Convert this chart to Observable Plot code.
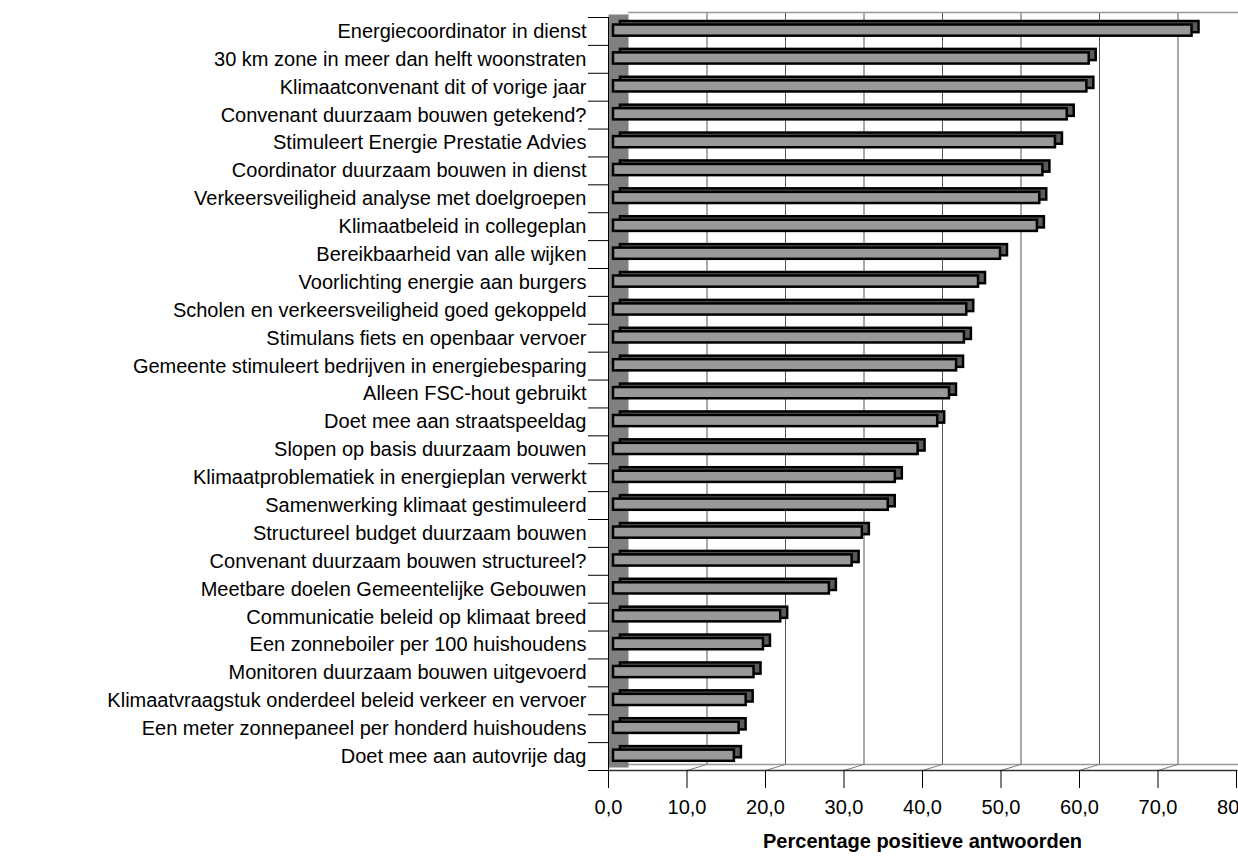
<!DOCTYPE html>
<html><head><meta charset="utf-8">
<script src="https://cdn.jsdelivr.net/npm/d3@7"></script>
<script src="https://cdn.jsdelivr.net/npm/@observablehq/plot@0.6"></script>
<style>body{margin:0;background:#fff;} #chart svg{display:block;}</style>
</head><body><div id="chart"></div>
<script>
const categories = [
  "Energiecoordinator in dienst",
  "30 km zone in meer dan helft woonstraten",
  "Klimaatconvenant dit of vorige jaar",
  "Convenant duurzaam bouwen getekend?",
  "Stimuleert Energie Prestatie Advies",
  "Coordinator duurzaam bouwen in dienst",
  "Verkeersveiligheid analyse met doelgroepen",
  "Klimaatbeleid in collegeplan",
  "Bereikbaarheid van alle wijken",
  "Voorlichting energie aan burgers",
  "Scholen en verkeersveiligheid goed gekoppeld",
  "Stimulans fiets en openbaar vervoer",
  "Gemeente stimuleert bedrijven in energiebesparing",
  "Alleen FSC-hout gebruikt",
  "Doet mee aan straatspeeldag",
  "Slopen op basis duurzaam bouwen",
  "Klimaatproblematiek in energieplan verwerkt",
  "Samenwerking klimaat gestimuleerd",
  "Structureel budget duurzaam bouwen",
  "Convenant duurzaam bouwen structureel?",
  "Meetbare doelen Gemeentelijke Gebouwen",
  "Communicatie beleid op klimaat breed",
  "Een zonneboiler per 100 huishoudens",
  "Monitoren duurzaam bouwen uitgevoerd",
  "Klimaatvraagstuk onderdeel beleid verkeer en vervoer",
  "Een meter zonnepaneel per honderd huishoudens",
  "Doet mee aan autovrije dag"
];
const values = [
  73.7, 60.6, 60.3, 57.8, 56.3, 54.7, 54.3, 54.0, 49.3, 46.5,
  45.0, 44.7, 43.7, 42.8, 41.3, 38.8, 35.9, 35.0, 31.7, 30.4,
  27.5, 21.3, 19.1, 17.9, 16.9, 16.0, 15.4
];
const xTicks = [0, 10, 20, 30, 40, 50, 60, 70, 80];
const axisTitle = "Percentage positieve antwoorden";

const data = categories.map((label, i) => ({label, value: values[i], i}));
const n = categories.length;
const boundaries = d3.range(n + 1);
const centers = d3.range(n).map(i => i + 0.5);
const fmt = d => d3.format(".1f")(d).replace(".", ",");

const barStyle = {x1: () => 0, x2: "value", y1: "i", y2: d => d.i + 1, insetTop: 7.5, insetBottom: 9.2};
const lineShape = {draw(context, l) { context.moveTo(0, 0); context.lineTo(0, -l); }};

function build(withDiagonals) {
  return Plot.plot({
    width: 1238, height: 859,
    marginLeft: 608, marginRight: 2, marginTop: 17, marginBottom: 89,
    style: {fontFamily: "'Liberation Sans', Arial, sans-serif", fontSize: "20px", color: "black", background: "white", overflow: "hidden"},
    x: {domain: [0, 80], axis: null},
    y: {domain: [0, n], reverse: true, axis: null},
    marks: [
      Plot.ruleX(xTicks.slice(1), {dx: 20, dy: -5, stroke: "#555", strokeWidth: 1}),
      Plot.ruleY([0], {dx: 20, dy: -5, stroke: "#999", strokeWidth: 1.5}),
      Plot.ruleY([n], {dx: 20, dy: -6, stroke: "#999", strokeWidth: 1.5}),
      withDiagonals ? Plot.vector(xTicks.slice(1), {x: d => d, y: () => n, length: 21, rotate: 73, anchor: "start", shape: lineShape, stroke: "#777", strokeWidth: 1}) : null,
      Plot.ruleY([n], {stroke: "#333", strokeWidth: 1.5}),
      Plot.ruleX([0], {dx: 10, dy: -2.5, stroke: "#808080", strokeWidth: 20}),
      Plot.rect(data, {...barStyle, dx: 12, dy: -3.5, fill: "#5a5a5a", stroke: "black", strokeWidth: 2.5}),
      Plot.rect(data, {...barStyle, dx: 5, fill: "#999999", stroke: "black", strokeWidth: 2.5}),
      Plot.ruleX([0], {stroke: "black", strokeWidth: 1}),
      Plot.axisY({ticks: boundaries, tickSize: 20, tickFormat: () => "", label: null, stroke: "black"}),
      Plot.axisY({ticks: centers, tickSize: 0, tickPadding: 22, tickFormat: d => categories[Math.floor(d)], fontSize: 20, label: null}),
      Plot.axisX({ticks: xTicks, tickSize: 18, tickPadding: 11, tickFormat: fmt, fontSize: 20, label: null, stroke: "black"}),
      Plot.text([axisTitle], {frameAnchor: "bottom", dy: 77, fontWeight: "bold", fontSize: 20})
    ]
  });
}
let chart;
try { chart = build(true); } catch (e) { chart = build(false); }
document.getElementById("chart").append(chart);
</script>
</body></html>
